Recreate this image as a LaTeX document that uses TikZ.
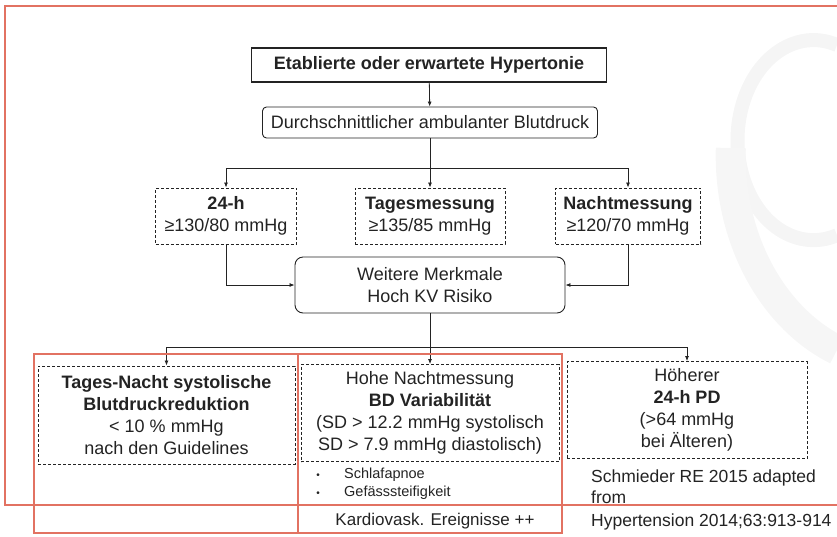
\documentclass[tikz,border=0pt]{standalone}
\usepackage{fontspec}
\setmainfont{Liberation Sans}
\usepackage{tikz}
\usetikzlibrary{arrows.meta}
\tikzset{>={Latex[width=4pt,length=5pt]}}
\definecolor{frame}{RGB}{226,114,98}
\definecolor{ink}{RGB}{35,35,35}

\begin{document}
\begin{tikzpicture}[x=1pt, y=-1pt,
  box/.style={draw=ink, line width=0.9pt, align=center, inner sep=0pt,
    text=ink, font=\fontsize{18}{22}\selectfont},
  dbox/.style={box, dash pattern=on 3pt off 2pt},
  rbox/.style={box, rounded corners=6pt},
  link/.style={draw=ink, line width=0.8pt},
  note/.style={text=ink, inner sep=0pt, font=\fontsize{17.5}{21}\selectfont}]

  \useasboundingbox (0,0) rectangle (837,536);

  % faint watermark
  \draw[gray!8, line width=14pt] (837,45) arc[start angle=-72, end angle=-288, x radius=76, y radius=100];
  \draw[gray!7, line width=30pt] (837,350) arc[start angle=112, end angle=182, x radius=170, y radius=210];

  \newcommand\XM{430}
  \newcommand\XL{226}
  \newcommand\XR{628}

  % boxes
  \node[box, line width=1.2pt, minimum width=355, minimum height=34, font=\fontsize{18}{22}\selectfont\bfseries]
    (hyper) at (429,65) {Etablierte oder erwartete Hypertonie};
  \node[rbox, rounded corners=4pt, minimum width=335, minimum height=31]
    (mean) at (\XM,122.5) {Durchschnittlicher ambulanter Blutdruck};

  \node[dbox, minimum width=141, minimum height=56] (day24) at (\XL,216)
    {\textbf{24-h}\\≥130/80 mmHg};
  \node[dbox, minimum width=150, minimum height=56] (day) at (\XM,216)
    {\textbf{Tagesmessung}\\≥135/85 mmHg};
  \node[dbox, minimum width=145, minimum height=56] (night) at (\XR,216)
    {\textbf{Nachtmessung}\\≥120/70 mmHg};

  \node[rbox, rounded corners=8pt, minimum width=270, minimum height=56] (risk) at (\XM,285)
    {Weitere Merkmale\\Hoch KV Risiko};

  \node[dbox, minimum width=257, minimum height=98] (dip) at (166.5,415)
    {\textbf{Tages-Nacht systolische}\\\textbf{Blutdruckreduktion}\\< 10 \% mmHg\\nach den Guidelines};
  \node[dbox, minimum width=258, minimum height=97] (var) at (\XM,413)
    {Hohe Nachtmessung\\\textbf{BD Variabilität}\\(SD > 12.2 mmHg systolisch\\SD > 7.9 mmHg diastolisch)};
  \node[dbox, minimum width=240, minimum height=97] (pp) at (687,410)
    {Höherer\\\textbf{24-h PD}\\(>64 mmHg\\bei Älteren)};

  % connectors
  \coordinate (split1) at (\XM,168);
  \coordinate (split2) at (\XM,347);

  \draw[link,->] (hyper) -- (mean);
  \draw[link,->] (mean.south) -- (day.north);
  \draw[link,->] (split1) -| (day24.north);
  \draw[link,->] (split1) -| (night.north);
  \draw[link,->] (day24.south) |- (risk.west);
  \draw[link,->] (night.south) |- (risk.east);

  \draw[link,->] (risk.south) -- (var.north);
  \draw[link,->] (split2) -| (dip.north);
  \draw[link,->] (split2) -| (pp.north);

  % red frames
  \draw[frame, line width=1.3pt] (5,6) rectangle (850,505);
  \draw[frame, line width=1.3pt] (34,354) rectangle (298,533);
  \draw[frame, line width=1.3pt] (298,354) rectangle (562,533);

  % notes below
  \node[note, anchor=west, font=\fontsize{14.5}{17}\selectfont] (apnoe) at (344,475) {Schlafapnoe};
  \node[note, anchor=west, font=\fontsize{14.5}{17}\selectfont] (stiff) at (344,493) {Gefässsteifigkeit};
  \node[note, font=\fontsize{10}{12}\selectfont] (dot1) at (318,476) {•};
  \node[note, font=\fontsize{10}{12}\selectfont] (dot2) at (318,494) {•};
  \node[note, font=\fontsize{17}{20}\selectfont] (events) at (435,521) {Kardiovask. Ereignisse ++};

  \node[note, anchor=west] (src1) at (591,478) {Schmieder RE 2015 adapted};
  \node[note, anchor=west] (src2) at (591,497) {from};
  \node[note, anchor=west] (src3) at (591,522) {Hypertension 2014;63:913-914};

\end{tikzpicture}
\end{document}
